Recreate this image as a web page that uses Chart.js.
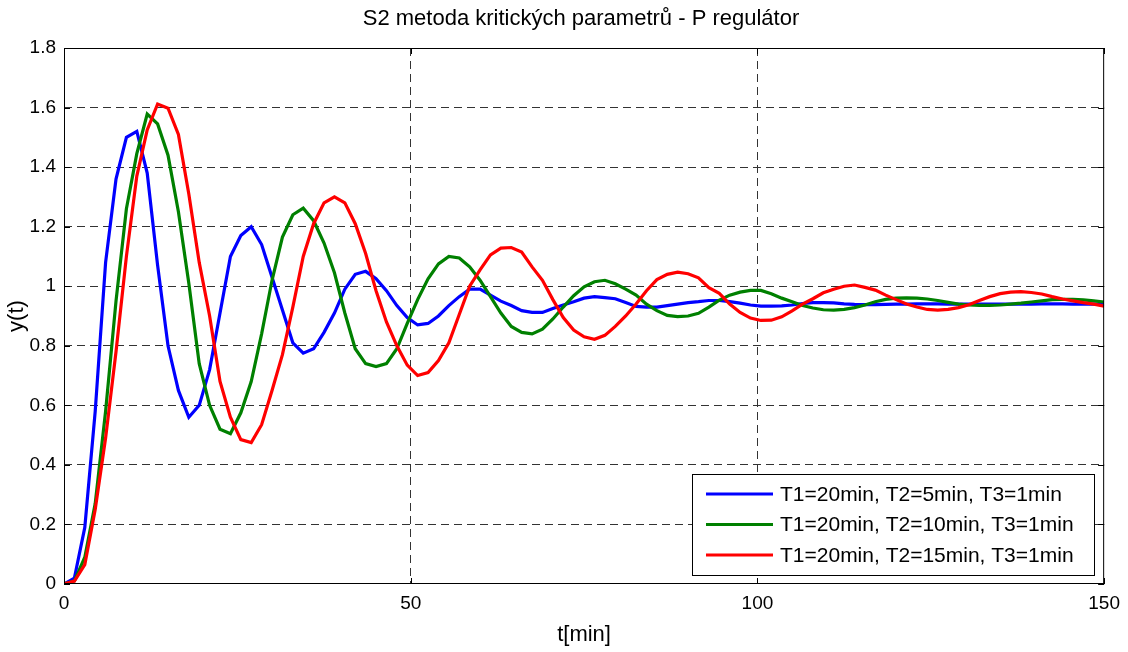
<!DOCTYPE html>
<html>
<head>
<meta charset="utf-8">
<title>S2 metoda kritických parametrů - P regulátor</title>
<script src="https://cdn.jsdelivr.net/npm/chart.js@4.4.1/dist/chart.umd.min.js"></script>
<style>
  html, body { margin: 0; padding: 0; background: #fff; }
  #wrap { width: 1128px; height: 652px; }
</style>
</head>
<body>
<div id="wrap"><canvas id="myChart" width="1128" height="652"></canvas></div>
<script>
// sample times [min]
const t = [
  0, 1.5, 3, 4.5, 6, 7.5, 9, 10.5, 12, 13.5,
  15, 16.5, 18, 19.5, 21, 22.5, 24, 25.5, 27, 28.5,
  30, 31.5, 33, 34.5, 36, 37.5, 39, 40.5, 42, 43.5,
  45, 46.5, 48, 49.5, 51, 52.5, 54, 55.5, 57, 58.5,
  60, 61.5, 63, 64.5, 66, 67.5, 69, 70.5, 72, 73.5,
  75, 76.5, 78, 79.5, 81, 82.5, 84, 85.5, 87, 88.5,
  90, 91.5, 93, 94.5, 96, 97.5, 99, 100.5, 102, 103.5,
  105, 106.5, 108, 109.5, 111, 112.5, 114, 115.5, 117, 118.5,
  120, 121.5, 123, 124.5, 126, 127.5, 129, 130.5, 132, 133.5,
  135, 136.5, 138, 139.5, 141, 142.5, 144, 145.5, 147, 148.5, 150
];

// T2 = 5 min
const yT2_5 = [
  0, 0.02, 0.19, 0.58, 1.08, 1.36, 1.50, 1.52, 1.38, 1.07,
  0.80, 0.65, 0.56, 0.60, 0.72, 0.91, 1.10, 1.17, 1.20, 1.14,
  1.03, 0.92, 0.81, 0.775, 0.79, 0.845, 0.91, 0.99, 1.04, 1.05,
  1.025, 0.985, 0.935, 0.895, 0.87, 0.875, 0.90, 0.935, 0.965, 0.99,
  0.99, 0.97, 0.95, 0.935, 0.918, 0.912, 0.912, 0.925, 0.937, 0.948,
  0.96, 0.965, 0.962, 0.958, 0.945, 0.932, 0.93, 0.93, 0.935, 0.94,
  0.945, 0.948, 0.952, 0.952, 0.948, 0.943, 0.937, 0.933, 0.933, 0.934,
  0.937, 0.942, 0.945, 0.945, 0.944, 0.941, 0.939, 0.938, 0.938, 0.939,
  0.94, 0.94, 0.941, 0.941, 0.941, 0.94, 0.94, 0.94, 0.94, 0.94,
  0.94, 0.94, 0.94, 0.94, 0.941, 0.941, 0.941, 0.94, 0.94, 0.94, 0.94
];

// T2 = 10 min
const yT2_10 = [
  0, 0.01, 0.09, 0.27, 0.58, 0.95, 1.26, 1.445, 1.578, 1.545,
  1.44, 1.25, 1.01, 0.74, 0.60, 0.52, 0.505, 0.575, 0.68, 0.84,
  1.02, 1.165, 1.24, 1.262, 1.22, 1.145, 1.045, 0.91, 0.79, 0.74,
  0.73, 0.74, 0.79, 0.875, 0.955, 1.025, 1.075, 1.10, 1.095, 1.065,
  1.02, 0.965, 0.91, 0.865, 0.845, 0.84, 0.856, 0.89, 0.93, 0.968,
  0.998, 1.015, 1.02, 1.008, 0.99, 0.97, 0.94, 0.918, 0.902, 0.898,
  0.9, 0.909, 0.93, 0.953, 0.97, 0.98, 0.986, 0.986, 0.975, 0.96,
  0.948, 0.935, 0.927, 0.921, 0.92, 0.922, 0.928, 0.937, 0.948, 0.956,
  0.96, 0.961, 0.96, 0.957, 0.952, 0.946, 0.94, 0.937, 0.936, 0.936,
  0.937, 0.94, 0.943, 0.947, 0.951, 0.955, 0.956, 0.956, 0.954, 0.951, 0.947
];

// T2 = 15 min
const yT2_15 = [
  0, 0.01, 0.065, 0.25, 0.49, 0.78, 1.10, 1.37, 1.525, 1.612,
  1.598, 1.51, 1.31, 1.08, 0.90, 0.68, 0.56, 0.485, 0.475, 0.535,
  0.65, 0.77, 0.93, 1.10, 1.21, 1.28, 1.30, 1.28, 1.21, 1.11,
  0.985, 0.88, 0.80, 0.735, 0.70, 0.71, 0.75, 0.81, 0.905, 1.00,
  1.055, 1.105, 1.128, 1.13, 1.115, 1.065, 1.02, 0.955, 0.895, 0.853,
  0.83, 0.822, 0.835, 0.865, 0.9, 0.94, 0.985, 1.022, 1.04, 1.047,
  1.042, 1.028, 0.995, 0.976, 0.94, 0.912, 0.893, 0.885, 0.886, 0.897,
  0.917, 0.94, 0.958, 0.978, 0.99, 1.0, 1.004, 0.996, 0.987, 0.97,
  0.955, 0.94, 0.93, 0.922, 0.92, 0.922, 0.928, 0.938, 0.952, 0.965,
  0.975, 0.98, 0.982, 0.979, 0.974, 0.965, 0.957, 0.951, 0.945, 0.94, 0.933
];

const seriesLabels = [
  "T1=20min, T2=5min, T3=1min",
  "T1=20min, T2=10min, T3=1min",
  "T1=20min, T2=15min, T3=1min"
];
const seriesColors = ["#0000ff", "#008000", "#ff0000"];

const xTicks = [0, 50, 100, 150];
const yTicks = [0, 0.2, 0.4, 0.6, 0.8, 1, 1.2, 1.4, 1.6, 1.8];

const FONT = "'Liberation Sans', Arial, sans-serif";

const toPoints = (vals) => t.map((x, i) => ({ x: x, y: vals[i] }));

// no dashed grid line on top of the frame edges
const innerGrid = (ticks) => (c) =>
  c.tick && (c.tick.value === ticks[0] || c.tick.value === ticks[ticks.length - 1]) ? "rgba(0,0,0,0)" : "#333";

// box around the axes, inward ticks, title and legend
const matlabLook = {
  id: "matlabLook",
  afterDraw(chart) {
    const { ctx, chartArea: a } = chart;
    const xs = chart.scales.x;
    const ys = chart.scales.y;
    ctx.save();
    ctx.strokeStyle = "#000";
    ctx.lineWidth = 1;
    ctx.setLineDash([]);
    ctx.strokeRect(a.left + 0.5, a.top + 0.5, a.right - a.left - 1, a.bottom - a.top - 1);

    const tl = 6;
    ctx.beginPath();
    xTicks.forEach((v) => {
      const px = Math.round(xs.getPixelForValue(v)) + 0.5;
      ctx.moveTo(px, a.bottom); ctx.lineTo(px, a.bottom - tl);
      ctx.moveTo(px, a.top); ctx.lineTo(px, a.top + tl);
    });
    yTicks.forEach((v) => {
      const py = Math.round(ys.getPixelForValue(v)) + 0.5;
      ctx.moveTo(a.left, py); ctx.lineTo(a.left + tl, py);
      ctx.moveTo(a.right, py); ctx.lineTo(a.right - tl, py);
    });
    ctx.stroke();

    // title
    ctx.fillStyle = "#000";
    ctx.font = "22px " + FONT;
    ctx.textAlign = "center";
    ctx.textBaseline = "middle";
    ctx.fillText("S2 metoda kritických parametrů - P regulátor", 581, 19);

    // legend
    const lx = 692, ly = 474, lw = 402, lh = 101;
    ctx.fillStyle = "#fff";
    ctx.fillRect(lx, ly, lw, lh);
    ctx.strokeRect(lx + 0.5, ly + 0.5, lw, lh);
    ctx.font = "21px " + FONT;
    ctx.textAlign = "left";
    seriesLabels.forEach((lab, i) => {
      const y = ly + 20 + i * 30.5;
      ctx.strokeStyle = seriesColors[i];
      ctx.lineWidth = 3;
      ctx.beginPath();
      ctx.moveTo(706, y); ctx.lineTo(773, y);
      ctx.stroke();
      ctx.fillStyle = "#000";
      ctx.fillText(lab, 780, y + 1);
    });
    ctx.restore();
  }
};

const ctx = document.getElementById("myChart");
const myChart = new Chart(ctx, {
  type: "line",
  data: {
    datasets: [
      { label: seriesLabels[0], data: toPoints(yT2_5), borderColor: seriesColors[0], order: 2 },
      { label: seriesLabels[1], data: toPoints(yT2_10), borderColor: seriesColors[1], order: 1 },
      { label: seriesLabels[2], data: toPoints(yT2_15), borderColor: seriesColors[2], order: 0 }
    ]
  },
  options: {
    responsive: false,
    devicePixelRatio: 1,
    animation: false,
    layout: { padding: { top: 48, right: 23, left: 0, bottom: 0 } },
    elements: {
      line: { borderWidth: 3.2, tension: 0, fill: false },
      point: { radius: 0 }
    },
    plugins: {
      legend: { display: false },
      tooltip: { enabled: false }
    },
    scales: {
      x: {
        type: "linear",
        min: 0,
        max: 150,
        afterBuildTicks: (s) => { s.ticks = xTicks.map((v) => ({ value: v })); },
        afterFit: (s) => { s.height = 68; },
        ticks: { color: "#000", font: { family: FONT, size: 19 }, padding: 8, maxRotation: 0, callback: (v) => String(v) },
        grid: { color: innerGrid(xTicks), lineWidth: 1, drawTicks: false },
        border: { display: false, dash: [8, 5] },
        title: { display: true, text: "t[min]", color: "#000", font: { family: FONT, size: 22 } }
      },
      y: {
        min: 0,
        max: 1.8,
        afterBuildTicks: (s) => { s.ticks = yTicks.map((v) => ({ value: v })); },
        afterFit: (s) => { s.width = 64; },
        ticks: { color: "#000", font: { family: FONT, size: 19 }, padding: 8, callback: (v) => String(v) },
        grid: { color: innerGrid(yTicks), lineWidth: 1, drawTicks: false },
        border: { display: false, dash: [8, 5] },
        title: { display: true, text: "y(t)", color: "#000", font: { family: FONT, size: 22 } }
      }
    }
  },
  plugins: [matlabLook]
});
</script>
</body>
</html>
